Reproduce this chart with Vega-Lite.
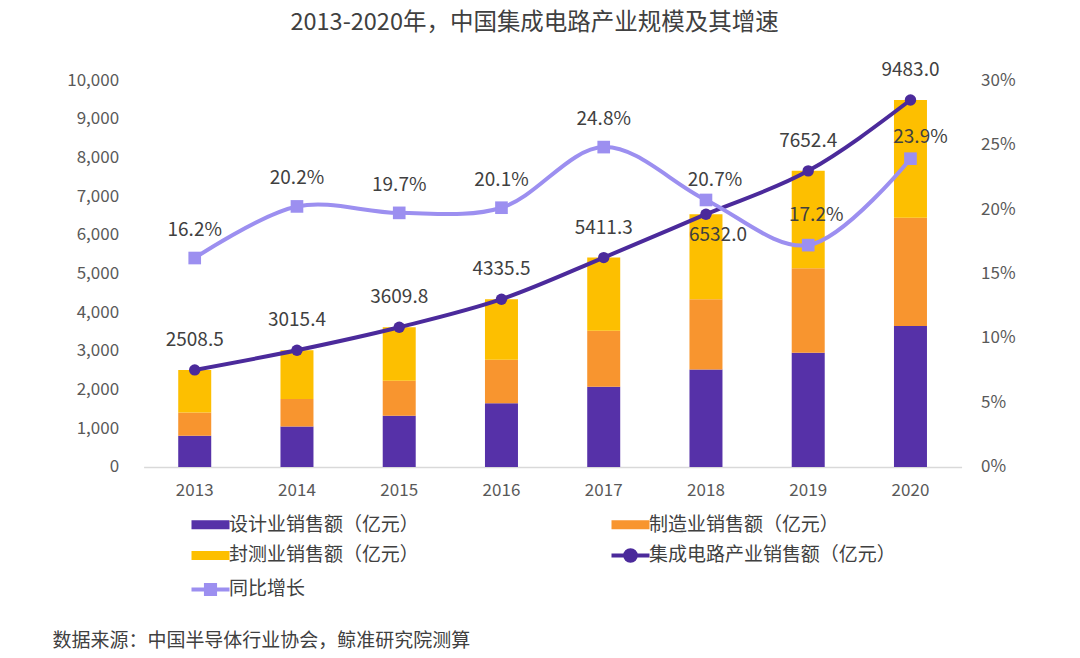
{
  "$schema": "https://vega.github.io/schema/vega-lite/v6.json",
  "width": 818,
  "height": 387,
  "autosize": {"type": "none"},
  "padding": {"left": 143.6, "top": 80, "right": 118, "bottom": 191},
  "background": "white",
  "config": {
    "font": "Noto Sans CJK SC",
    "view": {"stroke": null},
    "axis": {"labelFont": "Noto Sans CJK SC", "labelColor": "#595959", "labelFontSize": 17, "grid": false, "ticks": false, "labelOverlap": false}
  },
  "title": {
    "text": "2013-2020年，中国集成电路产业规模及其增速",
    "font": "Noto Sans CJK SC",
    "fontSize": 23.5,
    "fontWeight": "normal",
    "color": "#404040",
    "anchor": "middle",
    "dx": -18,
    "offset": 27
  },
  "datasets": {
    "bars": [
      {"year": "2013", "type": "设计业销售额（亿元）", "value": 808.8},
      {"year": "2013", "type": "制造业销售额（亿元）", "value": 600.9},
      {"year": "2013", "type": "封测业销售额（亿元）", "value": 1098.8},
      {"year": "2014", "type": "设计业销售额（亿元）", "value": 1047.4},
      {"year": "2014", "type": "制造业销售额（亿元）", "value": 712.1},
      {"year": "2014", "type": "封测业销售额（亿元）", "value": 1255.9},
      {"year": "2015", "type": "设计业销售额（亿元）", "value": 1325.0},
      {"year": "2015", "type": "制造业销售额（亿元）", "value": 900.8},
      {"year": "2015", "type": "封测业销售额（亿元）", "value": 1384.0},
      {"year": "2016", "type": "设计业销售额（亿元）", "value": 1644.3},
      {"year": "2016", "type": "制造业销售额（亿元）", "value": 1126.9},
      {"year": "2016", "type": "封测业销售额（亿元）", "value": 1564.3},
      {"year": "2017", "type": "设计业销售额（亿元）", "value": 2073.5},
      {"year": "2017", "type": "制造业销售额（亿元）", "value": 1448.1},
      {"year": "2017", "type": "封测业销售额（亿元）", "value": 1889.7},
      {"year": "2018", "type": "设计业销售额（亿元）", "value": 2519.3},
      {"year": "2018", "type": "制造业销售额（亿元）", "value": 1818.2},
      {"year": "2018", "type": "封测业销售额（亿元）", "value": 2194.5},
      {"year": "2019", "type": "设计业销售额（亿元）", "value": 2954.0},
      {"year": "2019", "type": "制造业销售额（亿元）", "value": 2180.0},
      {"year": "2019", "type": "封测业销售额（亿元）", "value": 2518.4},
      {"year": "2020", "type": "设计业销售额（亿元）", "value": 3643.0},
      {"year": "2020", "type": "制造业销售额（亿元）", "value": 2799.0},
      {"year": "2020", "type": "封测业销售额（亿元）", "value": 3041.0}
    ],
    "lines": [
      {"year": "2013", "total": 2508.5, "growth": 0.162},
      {"year": "2014", "total": 3015.4, "growth": 0.202},
      {"year": "2015", "total": 3609.8, "growth": 0.197},
      {"year": "2016", "total": 4335.5, "growth": 0.201},
      {"year": "2017", "total": 5411.3, "growth": 0.248},
      {"year": "2018", "total": 6532.0, "growth": 0.207},
      {"year": "2019", "total": 7652.4, "growth": 0.172},
      {"year": "2020", "total": 9483.0, "growth": 0.239}
    ]
  },
  "encoding": {
    "x": {
      "field": "year",
      "type": "nominal",
      "scale": {"paddingInner": 0.68, "paddingOuter": 0.34},
      "axis": {
        "labelAngle": 0,
        "domainColor": "#d9d9d9",
        "domainWidth": 1.5,
        "labelPadding": 16,
        "title": "数据来源：中国半导体行业协会，鲸准研究院测算",
        "titleFont": "Noto Sans CJK SC",
        "titleFontSize": 19,
        "titleFontWeight": "normal",
        "titleColor": "#404040",
        "titleAnchor": "start",
        "titleAlign": "left",
        "titleBaseline": "middle",
        "titleX": -91.6,
        "titleY": 174
      }
    }
  },
  "layer": [
    {
      "layer": [
        {
          "data": {"name": "bars"},
          "transform": [
            {"calculate": "indexof(['设计业销售额（亿元）','制造业销售额（亿元）','封测业销售额（亿元）'], datum.type)", "as": "k"}
          ],
          "mark": {"type": "bar", "width": 33},
          "encoding": {
            "y": {
              "field": "value",
              "type": "quantitative",
              "stack": "zero",
              "scale": {"domain": [0, 10000], "nice": false},
              "axis": {"values": [0,1000,2000,3000,4000,5000,6000,7000,8000,9000,10000], "format": ",.0f", "domain": false, "labelPadding": 25, "labelOverlap": false, "title": null}
            },
            "order": {"field": "k", "type": "quantitative"},
            "color": {
              "field": "type",
              "type": "nominal",
              "scale": {
                "domain": ["设计业销售额（亿元）", "制造业销售额（亿元）", "封测业销售额（亿元）", "集成电路产业销售额（亿元）", "同比增长"],
                "range": ["#5631A8", "#F8952F", "#FDBF00", "#4B2A9B", "#9C8FF0"]
              },
              "legend": {
                "orient": "none",
                "legendX": 57.4,
                "legendY": 435,
                "direction": "horizontal",
                "columns": 2,
                "columnPadding": 183,
                "rowPadding": 7,
                "title": null,
                "labelFont": "Noto Sans CJK SC",
                "labelFontSize": 19,
                "labelColor": "#404040",
                "labelOffset": 9,
                "labelLimit": 400,
                "symbolSize": 1444,
                "symbolType": "square",
                "encode": {
                  "symbols": {
                    "update": {
                      "shape": {"signal": "datum.value === '集成电路产业销售额（亿元）' ? 'M-1,0H1M-0.28,0A0.28,0.28 0 1,0 0.28,0A0.28,0.28 0 1,0 -0.28,0Z' : datum.value === '同比增长' ? 'M-1,0H1M-0.24,-0.24H0.24V0.24H-0.24Z' : 'M-1,-0.24H1V0.24H-1Z'"},
                      "fill": {"scale": "color", "field": "value"},
                      "stroke": {"scale": "color", "field": "value"},
                      "strokeWidth": {"signal": "datum.value === '集成电路产业销售额（亿元）' || datum.value === '同比增长' ? 4 : 0"},
                      "opacity": {"value": 1}
                    }
                  }
                }
              }
            }
          }
        },
        {
          "data": {"name": "lines"},
          "mark": {"type": "line", "interpolate": "monotone", "strokeWidth": 4, "point": {"filled": true, "size": 130}},
          "encoding": {
            "y": {"field": "total", "type": "quantitative",
              "axis": {"values": [0,1000,2000,3000,4000,5000,6000,7000,8000,9000,10000], "format": ",.0f", "domain": false, "labelPadding": 25, "labelOverlap": false, "title": null}},
            "color": {"datum": "集成电路产业销售额（亿元）"}
          }
        },
        {
          "data": {"name": "lines"},
          "transform": [{"filter": "datum.year !== '2018'"}],
          "mark": {"type": "text", "dy": -30, "fontSize": 19, "color": "#404040", "font": "Noto Sans CJK SC"},
          "encoding": {
            "y": {"field": "total", "type": "quantitative",
              "axis": {"values": [0,1000,2000,3000,4000,5000,6000,7000,8000,9000,10000], "format": ",.0f", "domain": false, "labelPadding": 25, "labelOverlap": false, "title": null}},
            "text": {"field": "total", "type": "quantitative", "format": ".1f"}
          }
        },
        {
          "data": {"name": "lines"},
          "transform": [{"filter": "datum.year === '2018'"}],
          "mark": {"type": "text", "dy": 21, "dx": 12, "fontSize": 19, "color": "#404040", "font": "Noto Sans CJK SC"},
          "encoding": {
            "y": {"field": "total", "type": "quantitative",
              "axis": {"values": [0,1000,2000,3000,4000,5000,6000,7000,8000,9000,10000], "format": ",.0f", "domain": false, "labelPadding": 25, "labelOverlap": false, "title": null}},
            "text": {"field": "total", "type": "quantitative", "format": ".1f"}
          }
        }
      ]
    },
    {
      "data": {"name": "lines"},
      "layer": [
        {
          "mark": {"type": "line", "interpolate": "catmull-rom", "strokeWidth": 4, "point": {"filled": true, "shape": "square", "size": 160}},
          "encoding": {
            "y": {
              "field": "growth",
              "type": "quantitative",
              "scale": {"domain": [0, 0.3], "nice": false},
              "axis": {"orient": "right", "values": [0,0.05,0.1,0.15,0.2,0.25,0.3], "format": ".0%", "domain": false, "labelPadding": 19, "title": null}
            },
            "color": {"datum": "同比增长"}
          }
        },
        {
          "transform": [{"filter": "datum.year <= '2017'"}],
          "mark": {"type": "text", "dy": -28, "fontSize": 19, "color": "#404040", "font": "Noto Sans CJK SC"},
          "encoding": {
            "y": {"field": "growth", "type": "quantitative"},
            "text": {"field": "growth", "type": "quantitative", "format": ".1%"}
          }
        },
        {
          "transform": [{"filter": "datum.year === '2018'"}],
          "mark": {"type": "text", "dy": -20, "dx": 9, "fontSize": 19, "color": "#404040", "font": "Noto Sans CJK SC"},
          "encoding": {
            "y": {"field": "growth", "type": "quantitative"},
            "text": {"field": "growth", "type": "quantitative", "format": ".1%"}
          }
        },
        {
          "transform": [{"filter": "datum.year === '2019'"}],
          "mark": {"type": "text", "dy": -30, "dx": 8, "fontSize": 19, "color": "#404040", "font": "Noto Sans CJK SC"},
          "encoding": {
            "y": {"field": "growth", "type": "quantitative"},
            "text": {"field": "growth", "type": "quantitative", "format": ".1%"}
          }
        },
        {
          "transform": [{"filter": "datum.year === '2020'"}],
          "mark": {"type": "text", "dy": -22, "dx": 10, "fontSize": 19, "color": "#404040", "font": "Noto Sans CJK SC"},
          "encoding": {
            "y": {"field": "growth", "type": "quantitative"},
            "text": {"field": "growth", "type": "quantitative", "format": ".1%"}
          }
        }
      ]
    }
  ],
  "resolve": {"scale": {"y": "independent"}}
}
